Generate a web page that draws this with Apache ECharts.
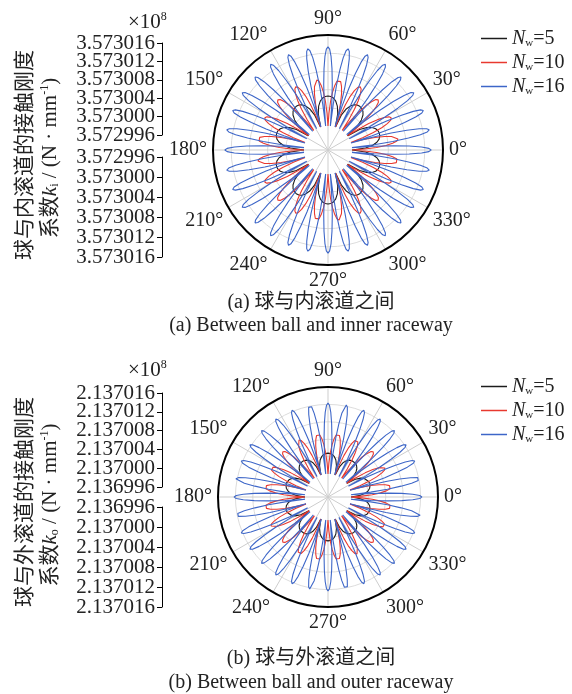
<!DOCTYPE html>
<html>
<head>
<meta charset="utf-8">
<script src="https://cdn.jsdelivr.net/npm/echarts@6/dist/echarts.min.js"></script>
<style>
  html, body { margin: 0; padding: 0; background: #fff; }
  #chart { width: 572px; height: 694px; }
</style>
</head>
<body>
<div id="chart"></div>
<script>
// series names, number of petals and angle of the first petal peak (deg)
const seriesNames = ['Nw=5', 'Nw=10', 'Nw=16'];
const seriesColors = ['#1c1c1c', '#e8392f', '#3d66c8'];
const petalCounts = [10, 20, 32];
const firstPeaks = [18, 9, 0];

// half petal, peak -> trough, value x10^8 N/mm
const innerBlack = [3.5730026, 3.5730025, 3.5730022, 3.5730016, 3.5730006, 3.5729990, 3.572996];
const innerRed   = [3.5730063, 3.5730060, 3.5730050, 3.5730035, 3.5730014, 3.5729988, 3.572996];
const innerBlue  = [3.5730134, 3.5730129, 3.5730113, 3.5730086, 3.5730051, 3.5730009, 3.572996];

const outerBlack = [2.1370008, 2.1370007, 2.1370005, 2.1370001, 2.1369994, 2.1369982, 2.136996];
const outerRed   = [2.1370054, 2.1370051, 2.1370042, 2.1370028, 2.1370009, 2.1369985, 2.136996];
const outerBlue  = [2.1370123, 2.1370118, 2.1370102, 2.1370077, 2.1370045, 2.1370006, 2.136996];

// tick labels of the left scales, centre -> rim
const innerTicks = ['3.572996', '3.573000', '3.573004', '3.573008', '3.573012', '3.573016'];
const outerTicks = ['2.136996', '2.137000', '2.137004', '2.137008', '2.137012', '2.137016'];

const innerRange = [3.572996, 3.573016];
const outerRange = [2.136996, 2.137016];
const tickStep = 0.000004;

const serif = "'Liberation Serif', 'Noto Sans CJK SC', serif";
const txt = '#222';

// one closed curve made of identical petals
function petals(half, count, firstPeak) {
  const h = 180 / count;
  const step = h / (half.length - 1);
  const out = [];
  for (let k = 0; k < count; k++) {
    const c = firstPeak + k * 2 * h;
    for (let j = half.length - 1; j > 0; j--) out.push([half[j], c - j * step]);
    for (let j = 0; j < half.length - 1; j++) out.push([half[j], c + j * step]);
  }
  out.push(out[0].slice());
  return out;
}

let myChart = echarts.init(document.getElementById('chart'));

const centers = [[328, 150], [328, 497]];
const outerR = [115, 110];
const innerR = [24, 23];

// polars 0,1 carry the data (with hole), polars 2,3 the frame, spokes and labels
const polarCfg = [
  { center: centers[0], radius: [innerR[0], outerR[0]] },
  { center: centers[1], radius: [innerR[1], outerR[1]] },
  { center: centers[0], radius: [0, outerR[0]] },
  { center: centers[1], radius: [0, outerR[1]] }
];

function dataAngle(i) {
  return {
    polarIndex: i, type: 'value', min: 0, max: 360, interval: 30,
    startAngle: 0, clockwise: false,
    axisLine: { show: false }, axisTick: { show: false },
    axisLabel: { show: false }, splitLine: { show: false }
  };
}
function frameAngle(i) {
  return {
    polarIndex: i, type: 'value', min: 0, max: 360, interval: 30,
    startAngle: 0, clockwise: false, z: 1,
    axisLine: { lineStyle: { color: '#000', width: 2 } },
    axisTick: { show: false },
    axisLabel: { formatter: '{value}°', fontSize: 20, color: txt, fontFamily: serif, margin: 6 },
    splitLine: { lineStyle: { color: '#cdcdcd', width: 1 } }
  };
}
function dataRadius(i, range) {
  return {
    polarIndex: i, type: 'value', min: range[0], max: range[1], interval: tickStep,
    axisLine: { show: false }, axisTick: { show: false }, axisLabel: { show: false },
    splitLine: { lineStyle: { color: ['rgba(0,0,0,0)', '#dcdcdc', '#dcdcdc', '#dcdcdc', '#dcdcdc', 'rgba(0,0,0,0)'], width: 1 } }
  };
}
function frameRadius(i) {
  return {
    polarIndex: i, type: 'value', min: 0, max: 1,
    axisLine: { show: false }, axisTick: { show: false }, axisLabel: { show: false },
    splitLine: { show: false }
  };
}
function leftAxis(g, ticks, inverse) {
  return {
    gridIndex: g, type: 'category', data: ticks, boundaryGap: false, inverse: inverse,
    axisLine: { show: true, lineStyle: { color: '#000', width: 1 } },
    axisTick: { show: true, length: 5, interval: 0, lineStyle: { color: '#000' } },
    axisLabel: {
      interval: 0, fontSize: 21, lineHeight: 16, color: txt, fontFamily: serif, margin: 7,
      hideOverlap: false
    },
    splitLine: { show: false }
  };
}
function legend(top) {
  return {
    left: 476, top: top, orient: 'vertical', itemGap: 3,
    icon: 'rect', itemWidth: 26, itemHeight: 1.5,
    data: seriesNames,
    formatter: n => '{i|N}{s|w}{t|' + n.slice(2) + '}',
    textStyle: {
      color: txt, fontFamily: serif, fontSize: 20, lineHeight: 21,
      rich: {
        i: { fontStyle: 'italic', fontSize: 20, fontFamily: serif, color: txt },
        s: { fontSize: 11, fontFamily: serif, color: txt, padding: [9, 0, 0, 0] },
        t: { fontSize: 20, fontFamily: serif, color: txt }
      }
    }
  };
}

const inner = [innerBlack, innerRed, innerBlue];
const outer = [outerBlack, outerRed, outerBlue];
const series = [];
[inner, outer].forEach((set, p) => {
  set.forEach((half, s) => {
    series.push({
      name: seriesNames[s], type: 'line', coordinateSystem: 'polar', polarIndex: p,
      data: petals(half, petalCounts[s], firstPeaks[s]),
      symbol: 'none', smooth: false, z: 3,
      lineStyle: { color: seriesColors[s], width: 1.1 },
      itemStyle: { color: seriesColors[s] },
      animation: false
    });
  });
});

const richTitle = {
  a: { fontSize: 21, fontFamily: serif, fill: txt },
  k: { fontSize: 21, fontFamily: serif, fontStyle: 'italic', fill: txt },
  s: { fontSize: 12, fontFamily: serif, fill: txt, padding: [10, 0, 0, 0] },
  p: { fontSize: 12, fontFamily: serif, fill: txt, padding: [0, 0, 10, 0] }
};
function yTitle(cy, zh, sub) {
  return [
    { type: 'text', x: 25, y: cy + 5, rotation: Math.PI / 2,
      style: { text: zh, font: '21px ' + serif, fill: txt, align: 'center', verticalAlign: 'middle' } },
    { type: 'text', x: 50, y: cy + 8, rotation: Math.PI / 2,
      style: { text: '{a|系数}{k|k}{s|' + sub + '}{a| / (N · mm}{p|-1}{a|)}', rich: richTitle,
        align: 'center', verticalAlign: 'middle' } }
  ];
}
function mag(y) {
  return { type: 'text', x: 128, y: y, style: { text: '{a|×10}{p|8}', rich: richTitle, verticalAlign: 'middle' } };
}
function caption(y, t) {
  return { type: 'text', x: 311, y: y, style: { text: t, font: '20px ' + serif, fill: txt, align: 'center', verticalAlign: 'middle' } };
}

myChart.setOption({
  animation: false,
  polar: polarCfg,
  angleAxis: [dataAngle(0), dataAngle(1), frameAngle(2), frameAngle(3)],
  radiusAxis: [dataRadius(0, innerRange), dataRadius(1, outerRange), frameRadius(2), frameRadius(3)],
  grid: [
    { left: 162, top: 43, height: 92, width: 1 },
    { left: 162, top: 157, height: 100, width: 1 },
    { left: 162, top: 393, height: 94, width: 1 },
    { left: 162, top: 507, height: 100, width: 1 }
  ],
  xAxis: [0, 1, 2, 3].map(g => ({ gridIndex: g, type: 'value', show: false })),
  yAxis: [
    leftAxis(0, innerTicks, false), leftAxis(1, innerTicks, true),
    leftAxis(2, outerTicks, false), leftAxis(3, outerTicks, true)
  ],
  legend: [legend(23), legend(371)],
  series: series,
  graphic: [].concat(
    yTitle(150, '球与内滚道的接触刚度', 'i'),
    yTitle(497, '球与外滚道的接触刚度', 'o'),
    [mag(22), mag(370),
     caption(303, '(a) 球与内滚道之间'), caption(326, '(a) Between ball and inner raceway'),
     caption(659, '(b) 球与外滚道之间'), caption(683, '(b) Between ball and outer raceway')]
  )
});
</script>
</body>
</html>
